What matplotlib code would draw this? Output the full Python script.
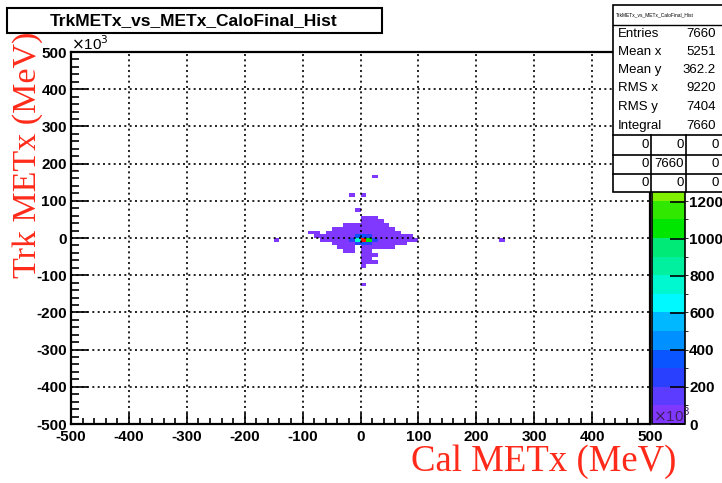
import numpy as np
import matplotlib
matplotlib.use("Agg")
import matplotlib.pyplot as plt
from matplotlib.colors import ListedColormap, BoundaryNorm
from matplotlib.patches import Rectangle

W, H = 722, 483

# --- data (bins of 10 x 10 in units of 10^3 MeV) ---
# dense core cells: bin index x, bin index y, counts
core_ix = [0, -1, 1, -2, 2, -1, 0, 1, -1, 0, 1]
core_iy = [-1, -1, -1, -1, -1, 0, 0, 0, -2, -2, -2]
core_n = [2010, 720, 1080, 300, 250, 350, 400, 300, 250, 350, 280]

# sparse (low count) rows: y bin, first x bin, last x bin, counts per bin
span_iy = [16, 11, 11, 7, 5, 4, 3, 2, 1, 1, 0, 0, -1, -1, -1, -1, -2, -2, -3, -3, -4, -4, -5, -6, -7, -8, -13]
span_ix0 = [2, -2, 0, -1, 0, 0, -3, -5, -9, -6, -8, 2, -15, -7, 3, 24, -5, 2, -4, 0, -3, 0, 0, 0, 0, 0, 0]
span_ix1 = [2, -2, 0, -1, 2, 3, 4, 5, -8, 6, -2, 8, -15, -3, 9, 24, -2, 7, -2, 5, -2, 1, 2, 1, 2, 0, 0]
span_n = [3, 2, 2, 4, 6, 8, 10, 12, 3, 20, 18, 22, 2, 25, 20, 2, 15, 16, 8, 10, 4, 6, 5, 4, 3, 2, 2]

stats_names = ["Entries", "Mean x", "Mean y", "RMS x", "RMS y", "Integral"]
stats_vals = ["7660", "5251", "362.2", "9220", "7404", "7660"]
table_vals = [["0", "0", "0"], ["0", "7660", "0"], ["0", "0", "0"]]

palette = ['#8038ff', '#5c3cff', '#2a40ff', '#0a55ff', '#0090ff', '#00b8ff', '#00f8ff',
           '#00f8d0', '#00f0a0', '#00ea78', '#00e600', '#30e800', '#80f000', '#a8f000',
           '#e0f000', '#ffee00', '#ffa700', '#ff7700', '#ff3000', '#ff1000']

# build histogram from the cell lists
xs, ys, ws = [], [], []
for ix, iy, n in zip(core_ix, core_iy, core_n):
    xs.append(ix * 10 + 5); ys.append(iy * 10 + 5); ws.append(n)
for iy, a, b, n in zip(span_iy, span_ix0, span_ix1, span_n):
    for ix in range(a, b + 1):
        xs.append(ix * 10 + 5); ys.append(iy * 10 + 5); ws.append(n)
edges = np.arange(-500, 501, 10)
hist, xe, ye = np.histogram2d(xs, ys, bins=[edges, edges], weights=ws)
zmax = hist.max()
hist = np.ma.masked_where(hist <= 0, hist)

def fx(x):
    return x / W

def fy(y):
    return 1 - y / H

plt.rcParams['font.family'] = ['Liberation Sans', 'DejaVu Sans']
plt.rcParams['axes.unicode_minus'] = False
fig = plt.figure(figsize=(W / 100, H / 100), dpi=100)

ax = fig.add_axes([fx(71), fy(424), (650 - 71) / W, (424 - 52) / H])
cmap = ListedColormap(palette)
norm = BoundaryNorm(np.linspace(0, zmax, 21), cmap.N)
mesh = ax.pcolormesh(xe, ye, hist.T, cmap=cmap, norm=norm)

ax.set_xlim(-500, 500)
ax.set_ylim(-500, 500)
ax.set_xticks(np.arange(-500, 501, 100))
ax.set_yticks(np.arange(-500, 501, 100))
ax.set_xticks(np.arange(-500, 501, 20), minor=True)
ax.set_yticks(np.arange(-500, 501, 20), minor=True)
ax.tick_params(axis='x', which='major', direction='in', length=8, width=1.2, labelsize=11, pad=4)
ax.tick_params(axis='x', which='minor', direction='in', length=4, width=1.2)
ax.tick_params(axis='y', which='major', direction='in', length=12, width=1.2, labelsize=11, pad=3)
ax.tick_params(axis='y', which='minor', direction='in', length=6, width=1.2)
for lab in ax.get_xticklabels() + ax.get_yticklabels():
    lab.set_fontweight('bold')
ax.grid(True, which='major', color='black', linestyle=(0, (1.2, 2)), linewidth=1.2)
ax.set_axisbelow(False)
for s in ax.spines.values():
    s.set_linewidth(1.6)

# colour scale
cax = fig.add_axes([fx(652), fy(424), (685 - 652) / W, (424 - 52) / H])
cb = fig.colorbar(mesh, cax=cax)
cb.set_ticks(np.arange(0, 1201, 200))
cb.outline.set_linewidth(1.2)
cax.tick_params(direction='in', length=11, width=1.2, labelsize=11, pad=3)
for lab in cax.get_yticklabels():
    lab.set_fontweight('bold')

# axis titles
fig.text(fx(544), fy(462), "Cal METx (MeV)", color='#ff2a1a', fontsize=26.5,
         family='Liberation Serif', ha='center', va='center')
fig.text(fx(28), fy(155), "Trk METx (MeV)", color='#ff2a1a', fontsize=24.5,
         family='Liberation Serif', ha='center', va='center', rotation=90)

# exponent labels
fig.text(fx(71), fy(50), r"$\times$10$^{3}$", fontsize=11, ha='left', va='baseline')
fig.text(fx(653), fy(422), r"$\times$10$^{3}$", fontsize=11, ha='left', va='baseline', color='#402060')

# title box
fig.patches.append(Rectangle((fx(7), fy(33)), (382 - 7) / W, (33 - 8) / H, transform=fig.transFigure,
                             facecolor='white', edgecolor='black', linewidth=1.5))
fig.text(fx(194), fy(21), "TrkMETx_vs_METx_CaloFinal_Hist", fontsize=12.5, fontweight='bold',
         ha='center', va='center')

# stats box
fig.patches.append(Rectangle((fx(613), fy(192)), (730 - 613) / W, (192 - 5) / H, transform=fig.transFigure,
                             facecolor='white', edgecolor='black', linewidth=1.2, zorder=5))
fig.text(fx(616), fy(15), "TrkMETx_vs_METx_CaloFinal_Hist", fontsize=3.5, ha='left', va='center', zorder=6)
fig.add_artist(plt.Line2D([fx(613), fx(722)], [fy(25), fy(25)], color='black', linewidth=1, zorder=6))
row_y = [34, 52, 70, 88, 107, 126]
for name, val, yy in zip(stats_names, stats_vals, row_y):
    fig.text(fx(618), fy(yy), name, fontsize=9.5, ha='left', va='center', zorder=6)
    fig.text(fx(716), fy(yy), val, fontsize=9.5, ha='right', va='center', zorder=6)
for yy in [135, 155, 174]:
    fig.add_artist(plt.Line2D([fx(613), fx(722)], [fy(yy), fy(yy)], color='black', linewidth=1.2, zorder=6))
for xx in [651, 686]:
    fig.add_artist(plt.Line2D([fx(xx), fx(xx)], [fy(135), fy(192)], color='black', linewidth=1.2, zorder=6))
cell_right = [649, 684, 719]
cell_mid = [145, 164, 183]
for r, yy in enumerate(cell_mid):
    for c, xx in enumerate(cell_right):
        fig.text(fx(xx), fy(yy), table_vals[r][c], fontsize=9.5, ha='right', va='center', zorder=6)

fig.savefig("out.png", dpi=100)
